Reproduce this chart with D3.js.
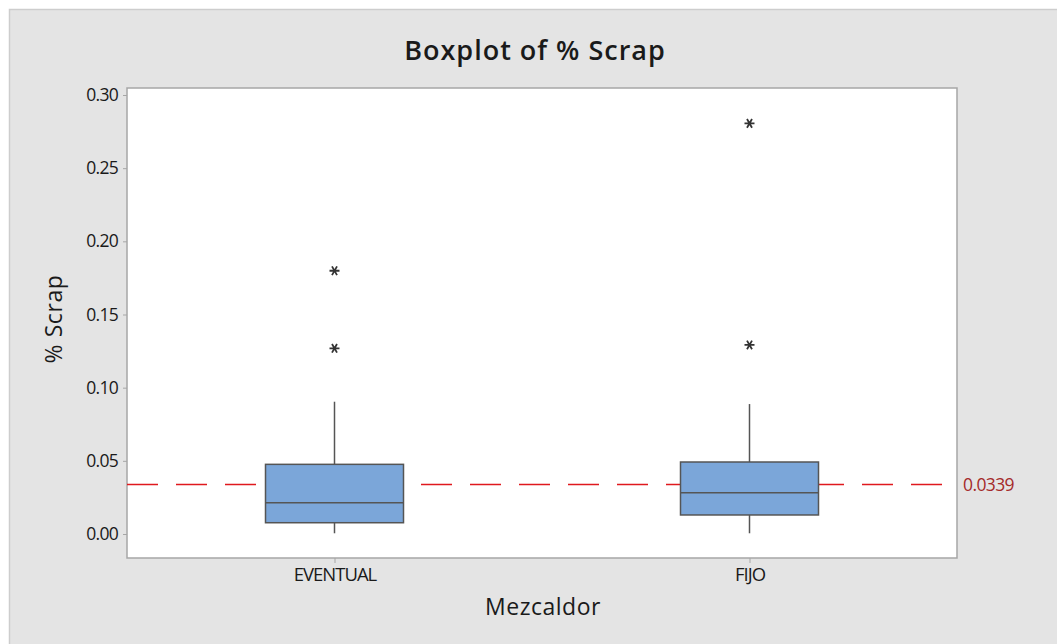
<!DOCTYPE html>
<html>
<head>
<meta charset="utf-8">
<script src="https://cdn.jsdelivr.net/npm/d3@7"></script>
<style>
  html, body { margin: 0; padding: 0; background: #ffffff; }
  svg { display: block; }
  text { font-family: "Open Sans", "Noto Sans", sans-serif; fill: #1a1a1a; }
</style>
</head>
<body>
<svg id="chart" width="1057" height="644"></svg>
<script>
// Groups on the horizontal axis
const categories = ["EVENTUAL", "FIJO"];
// Five-number summaries per group: lower whisker, Q1, median, Q3, upper whisker
const whiskerLow  = [0.0005, 0.0005];
const q1          = [0.0077, 0.0130];
const median      = [0.0214, 0.0282];
const q3          = [0.0476, 0.0492];
const whiskerHigh = [0.0904, 0.0888];
// Outlying observations per group
const outliers = [[0.1269, 0.1799], [0.1292, 0.2806]];
// Reference line (overall mean)
const refValue = 0.0339;
const refLabel = "0.0339";
// Y-axis tick values
const yTicks = [0.00, 0.05, 0.10, 0.15, 0.20, 0.25, 0.30];

const svg = d3.select("#chart");
const W = 1057, H = 644;

// Figure panel
svg.append("rect").attr("x", 0).attr("y", 0).attr("width", W).attr("height", H).attr("fill", "#ffffff");
svg.append("rect")
  .attr("x", 9.5).attr("y", 9.5).attr("width", W + 10).attr("height", H + 10)
  .attr("fill", "#e4e4e4").attr("stroke", "#cdcdcd").attr("stroke-width", 1.5);

const plot = { left: 127, right: 957, top: 88, bottom: 558 };

const x = d3.scalePoint().domain(categories).range([plot.left, plot.right]).padding(0.5);
const y = d3.scaleLinear().domain([0, 0.30]).range([534, 95]);

// Data region
svg.append("rect")
  .attr("x", plot.left).attr("y", plot.top)
  .attr("width", plot.right - plot.left).attr("height", plot.bottom - plot.top)
  .attr("fill", "#ffffff").attr("stroke", "#a6a6a6").attr("stroke-width", 1.5);

// Y axis
const yAxis = d3.axisLeft(y).tickValues(yTicks).tickFormat(d3.format(".2f")).tickSize(4).tickPadding(5);
const gy = svg.append("g").attr("transform", `translate(${plot.left},0)`).call(yAxis);
gy.select(".domain").remove();
gy.selectAll(".tick line").attr("stroke", "#a6a6a6").attr("stroke-width", 1);
gy.selectAll(".tick text")
  .style("font-family", "'Open Sans', sans-serif").style("font-size", "17.5px")
  .attr("fill", "#1a1a1a").style("letter-spacing", "-0.7px");

// X axis
const xAxis = d3.axisBottom(x).tickSize(5).tickPadding(5);
const gx = svg.append("g").attr("transform", `translate(0,${plot.bottom})`).call(xAxis);
gx.select(".domain").remove();
gx.selectAll(".tick line").attr("stroke", "#a6a6a6").attr("stroke-width", 1);
gx.selectAll(".tick text")
  .style("font-family", "'Open Sans', sans-serif").style("font-size", "18.5px")
  .attr("fill", "#1a1a1a").style("letter-spacing", "-1px");

// Reference line
svg.append("line")
  .attr("x1", plot.left).attr("x2", plot.right)
  .attr("y1", y(refValue)).attr("y2", y(refValue))
  .attr("stroke", "#e0191e").attr("stroke-width", 1.5)
  .attr("stroke-dasharray", "31,18");
svg.append("text")
  .attr("x", plot.right + 6).attr("y", y(refValue))
  .attr("dy", "0.35em")
  .style("font-size", "17.5px").style("letter-spacing", "-0.6px")
  .style("fill", "#a52a2a")
  .text(refLabel);

// Boxes
const boxW = 138;
const groups = svg.append("g").selectAll("g")
  .data(categories.map((c, i) => ({
    c, lo: whiskerLow[i], q1: q1[i], med: median[i], q3: q3[i], hi: whiskerHigh[i], out: outliers[i]
  })))
  .join("g")
  .attr("transform", d => `translate(${x(d.c)},0)`);

groups.append("line")
  .attr("x1", 0).attr("x2", 0).attr("y1", d => y(d.q3)).attr("y2", d => y(d.hi))
  .attr("stroke", "#555555").attr("stroke-width", 1.5);
groups.append("line")
  .attr("x1", 0).attr("x2", 0).attr("y1", d => y(d.q1)).attr("y2", d => y(d.lo))
  .attr("stroke", "#555555").attr("stroke-width", 1.5);
groups.append("rect")
  .attr("x", -boxW / 2).attr("width", boxW)
  .attr("y", d => y(d.q3)).attr("height", d => y(d.q1) - y(d.q3))
  .attr("fill", "#7ba6d9").attr("stroke", "#555555").attr("stroke-width", 1.5);
groups.append("line")
  .attr("x1", -boxW / 2).attr("x2", boxW / 2)
  .attr("y1", d => y(d.med)).attr("y2", d => y(d.med))
  .attr("stroke", "#555555").attr("stroke-width", 1.5);

// Outliers drawn as asterisks
const star = d3.symbol().type(d3.symbolAsterisk).size(70);
groups.selectAll("path.out")
  .data(d => d.out)
  .join("path")
  .attr("class", "out")
  .attr("transform", v => `translate(0,${y(v)}) rotate(90)`)
  .attr("d", star)
  .attr("fill", "none").attr("stroke", "#333333").attr("stroke-width", 1.8);

// Titles
svg.append("text")
  .attr("x", 535).attr("y", 51).attr("text-anchor", "middle").attr("dy", "0.35em")
  .style("font-size", "27px").style("font-weight", "600").style("letter-spacing", "1px")
  .text("Boxplot of % Scrap");
svg.append("text")
  .attr("x", 543).attr("y", 607).attr("text-anchor", "middle").attr("dy", "0.35em")
  .style("font-size", "23px").style("font-weight", "500").style("letter-spacing", "0.5px")
  .text("Mezcaldor");
svg.append("text")
  .attr("transform", `translate(54,${(plot.top + plot.bottom) / 2 - 4}) rotate(-90)`)
  .attr("text-anchor", "middle").attr("dy", "0.35em")
  .style("font-size", "23px").style("font-weight", "500").style("letter-spacing", "0.6px")
  .text("% Scrap");
</script>
</body>
</html>
